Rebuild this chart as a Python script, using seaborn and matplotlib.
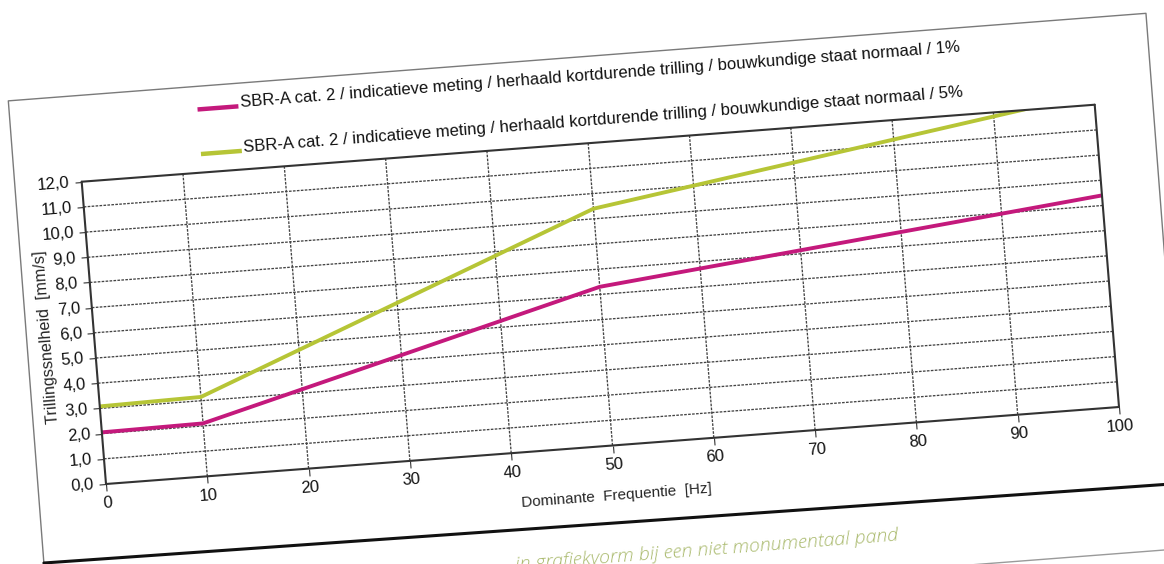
import numpy as np
import pandas as pd
import matplotlib
matplotlib.use("Agg")
import matplotlib.pyplot as plt
import seaborn as sns
from matplotlib.transforms import Affine2D
from matplotlib.lines import Line2D
import mpl_toolkits.axisartist.floating_axes as floating_axes
from mpl_toolkits.axisartist.grid_finder import FixedLocator, DictFormatter

# ---- data -------------------------------------------------------------
freq_hz = [0, 10, 50, 100]
limit_1pct = [2.05, 2.1, 6.3, 8.4]
limit_5pct = [3.08, 3.15, 9.4, 12.45]
series_names = [
    "SBR-A cat. 2 / indicatieve meting / herhaald kortdurende trilling / bouwkundige staat normaal / 1%",
    "SBR-A cat. 2 / indicatieve meting / herhaald kortdurende trilling / bouwkundige staat normaal / 5%",
]
series_colors = ["#c4197c", "#b6c536"]
x_ticks = [0, 10, 20, 30, 40, 50, 60, 70, 80, 90, 100]
x_tick_labels = ["0", "10", "20", "30", "40", "50", "60", "70", "80", "90", "100"]
y_ticks = [0, 1, 2, 3, 4, 5, 6, 7, 8, 9, 10, 11, 12]
y_tick_labels = ["0,0", "1,0", "2,0", "3,0", "4,0", "5,0", "6,0", "7,0",
                 "8,0", "9,0", "10,0", "11,0", "12,0"]
x_label = "Dominante  Frequentie  [Hz]"
y_label = "Trillingssnelheid  [mm/s]"
caption = "in grafiekvorm bij een niet monumentaal pand"

df = pd.DataFrame({
    "freq": freq_hz * 2,
    "snelheid": limit_1pct + limit_5pct,
    "reeks": [series_names[0]] * len(freq_hz) + [series_names[1]] * len(freq_hz),
})

# ---- style ------------------------------------------------------------
sns.set_style("white")
plt.rcParams["font.family"] = ["Liberation Sans", "DejaVu Sans"]

W, H = 1164, 564
fig = plt.figure(figsize=(W / 100, H / 100), dpi=100)
fig.patch.set_facecolor("white")

ANGLE = 4.4          # tilt of the printed page
ORIGIN = (106, 80)   # pixel position of the chart origin

# page layer (frame, legend, caption) in tilted page coordinates
page = fig.add_axes([0, 0, 1, 1], zorder=0)
page.set_xlim(0, W)
page.set_ylim(0, H)
page.axis("off")
page_tr = Affine2D().rotate_deg(ANGLE).translate(*ORIGIN) + page.transData

# chart layer: floating axes whose data space is tilted onto the page
data_to_px = Affine2D.from_values(10.13, 0.77, -2.025, 25.19, ORIGIN[0], ORIGIN[1])
grid_helper = floating_axes.GridHelperCurveLinear(
    data_to_px,
    extremes=(0, 100, 0, 12),
    grid_locator1=FixedLocator(x_ticks),
    grid_locator2=FixedLocator(y_ticks),
    tick_formatter1=DictFormatter(dict(zip(x_ticks, x_tick_labels))),
    tick_formatter2=DictFormatter(dict(zip(y_ticks, y_tick_labels))),
)
ax = fig.add_axes([0, 0, 1, 1], axes_class=floating_axes.FloatingAxes,
                  grid_helper=grid_helper, zorder=1)
ax.set_xlim(0, W)
ax.set_ylim(0, H)
ax.patch.set_facecolor("white")

aux = ax.get_aux_axes(data_to_px)
aux.patch = ax.patch  # clip the curves to the plot rectangle

sns.lineplot(data=df, x="freq", y="snelheid", hue="reeks",
             palette=series_colors, ax=aux, legend=False,
             linewidth=2.8, errorbar=None)
aux.set_xlabel("")
aux.set_ylabel("")

# grid and axis cosmetics
ax.grid(True, color="#444444", linestyle=(0, (2, 1)), linewidth=0.95)
for side in ("bottom", "top", "left", "right"):
    ax.axis[side].line.set_color("#333333")
    ax.axis[side].line.set_linewidth(1.5)
for side in ("top", "right"):
    ax.axis[side].major_ticks.set_visible(False)
    ax.axis[side].major_ticklabels.set_visible(False)
    ax.axis[side].label.set_visible(False)
for side in ("bottom", "left"):
    a = ax.axis[side]
    a.major_ticks.set_tick_out(True)
    a.major_ticks.set_ticksize(5)
    a.major_ticks.set_color("#333333")
    a.major_ticklabels.set_fontsize(12)
    a.major_ticklabels.set_color("#111111")
    a.major_ticklabels.set_pad(3.5)

ax.axis["bottom"].label.set_visible(True)
ax.axis["bottom"].label.set_text(x_label)
ax.axis["bottom"].label.set_fontsize(11)
ax.axis["bottom"].label.set_pad(14)
ax.axis["left"].label.set_visible(True)
ax.axis["left"].label.set_text(y_label)
ax.axis["left"].label.set_fontsize(11.6)
ax.axis["left"].label.set_pad(-3)

# chart-area frame
page.add_line(Line2D([-68, -68, 1073, 1073], [-200, 389.5, 389.5, -200],
                     transform=page_tr, color="#7a7a7a", linewidth=1.0))
page.add_line(Line2D([-68, 1250], [-74, -83], transform=page_tr,
                     color="#111111", linewidth=2.2))
page.add_line(Line2D([850, 1250], [-147, -147], transform=page_tr,
                     color="#9a9a9a", linewidth=1.0))

# legend
legend_rows = [366.4, 321.7]
for name, color, v in zip(series_names, series_colors, legend_rows):
    page.add_line(Line2D([120, 161], [v, v], transform=page_tr, color=color,
                         linewidth=3.2, solid_capstyle="butt"))
    page.text(163, v + 3.5, name, transform=page_tr, rotation=ANGLE,
              rotation_mode="anchor", ha="left", va="center",
              fontsize=12, color="#111111")

# caption under the chart
page.text(786, -117, caption, transform=page_tr, rotation=ANGLE,
          rotation_mode="anchor", ha="right", va="baseline",
          fontsize=14, color="#a9b96c", style="italic",
          family=["Open Sans", "DejaVu Sans"], fontweight="light")

fig.savefig("out.png", dpi=100, facecolor="white")
